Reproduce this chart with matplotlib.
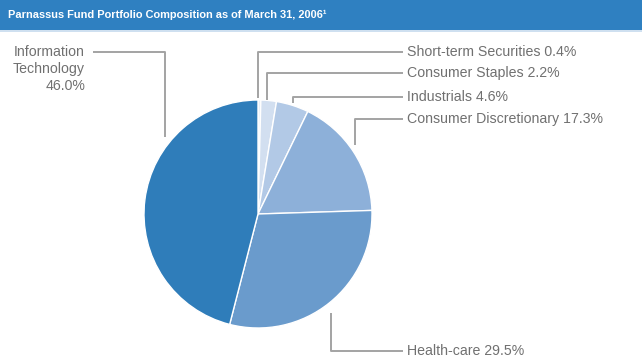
"""Parnassus Fund portfolio composition pie chart."""

import matplotlib

matplotlib.use("Agg")
import matplotlib.pyplot as plt
from matplotlib.patches import Rectangle

W, H = 642, 362

sectors = [
    "Short-term Securities",
    "Consumer Staples",
    "Industrials",
    "Consumer Discretionary",
    "Health-care",
    "Information\nTechnology",
]
shares = [0.4, 2.2, 4.6, 17.3, 29.5, 46.0]
colors = ["#eaf0f8", "#d2dff0", "#b2c9e6", "#8db0d9", "#6a9bcc", "#2f7dba"]

title = "Parnassus Fund Portfolio Composition as of March 31, 2006\u00b9"

# leader line paths in pixel coords (x, y from top), label anchor
leaders = [
    ([(258, 98), (258, 52), (403, 52)], (407, 52), "left"),
    ([(267, 100), (267, 73), (403, 73)], (407, 73), "left"),
    ([(293, 103), (293, 97), (403, 97)], (407, 97), "left"),
    ([(355, 145), (355, 119), (403, 119)], (407, 119), "left"),
    ([(331, 313), (331, 351), (403, 351)], (407, 351), "left"),
    ([(165, 137), (165, 52), (93, 52)], (85, 69), "right"),
]

GRAY_LINE = "#a3a3a3"
GRAY_TEXT = "#707070"
FONT = ["Liberation Sans", "DejaVu Sans"]


def fy(y):
    return H - y


fig = plt.figure(figsize=(W / 100, H / 100), dpi=100)
ax = fig.add_axes([0, 0, 1, 1])
ax.set_xlim(0, W)
ax.set_ylim(0, H)
ax.set_aspect("equal")
ax.axis("off")

# header band
ax.add_patch(Rectangle((0, fy(30)), W, 30, color="#2f80c1", lw=0))
ax.add_patch(Rectangle((0, fy(32)), W, 2, color="#cfe0f0", lw=0))
ax.text(8, fy(15), title, color="white", fontsize=7.9, fontweight="bold",
        va="center", ha="left", family=FONT)

ax.pie(
    shares,
    colors=colors,
    startangle=90,
    counterclock=False,
    center=(258, fy(214)),
    radius=114,
    wedgeprops=dict(edgecolor="white", linewidth=1.0),
)
ax.set_xlim(0, W)
ax.set_ylim(0, H)

for (path, anchor, ha), name, val in zip(leaders, sectors, shares):
    xs = [p[0] for p in path]
    ys = [fy(p[1]) for p in path]
    ax.plot(xs, ys, color=GRAY_LINE, lw=1.4, solid_capstyle="butt")
    if ha == "left":
        label = f"{name} {val:.1f}%"
    else:
        label = f"{name}\n{val:.1f}%"
    ax.text(anchor[0], fy(anchor[1]), label, color=GRAY_TEXT, fontsize=10.2,
            ha=ha, va="center", family=FONT, linespacing=1.3,
            multialignment=ha)

fig.savefig("out.png", dpi=100)
